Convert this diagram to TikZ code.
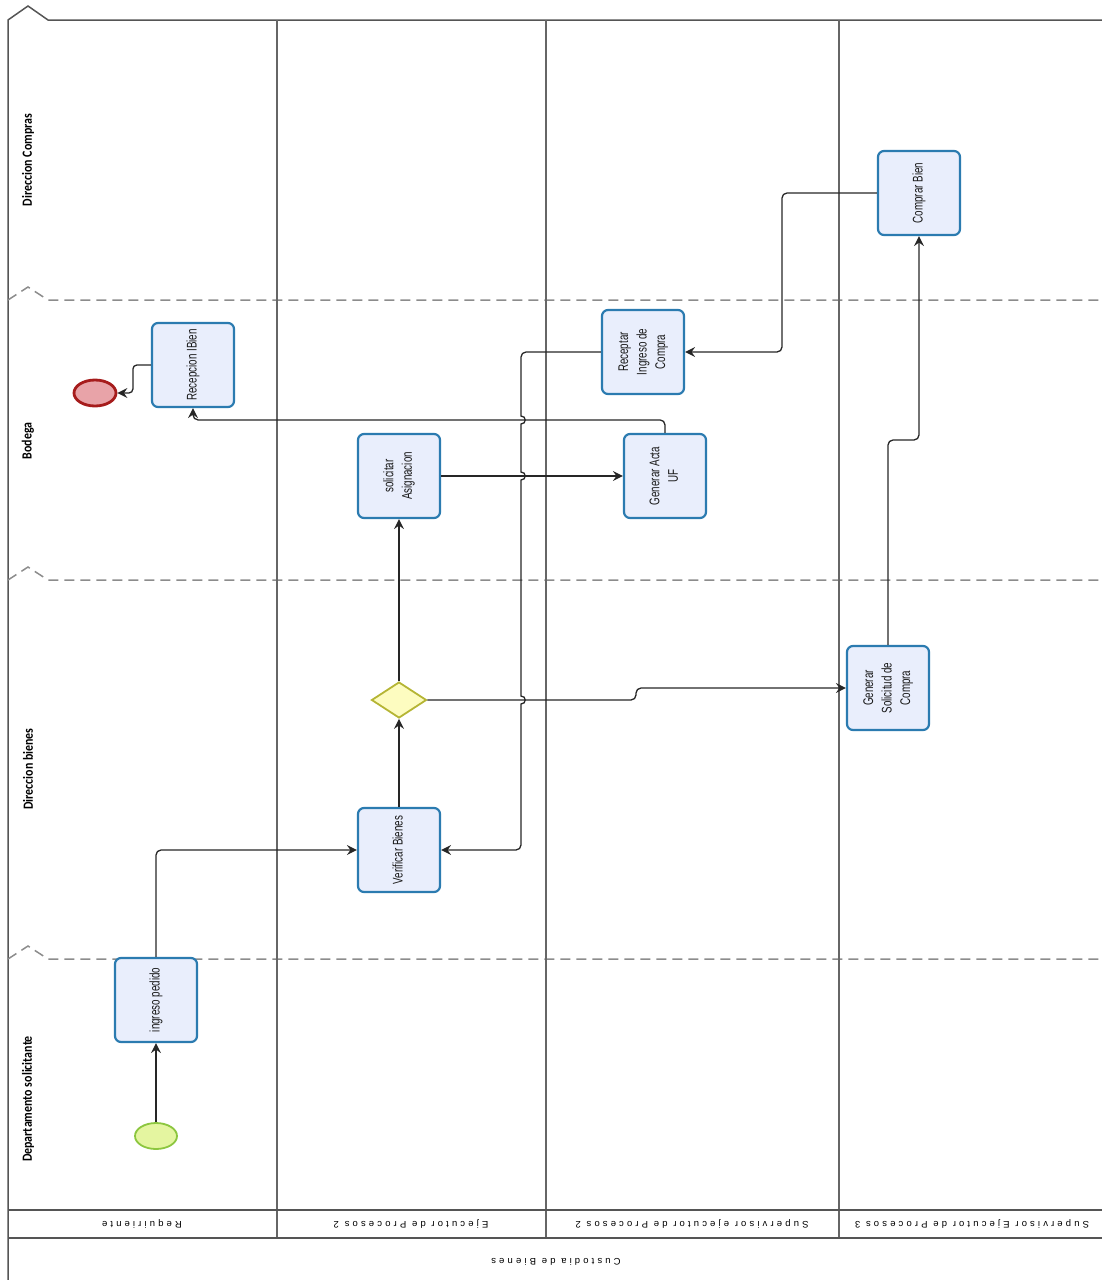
\documentclass[tikz,border=0pt]{standalone}
\usepackage{graphicx}
\usepackage{fontspec}
\setmainfont{Liberation Sans}
\newfontfamily\taskfont{Liberation Sans}[FakeStretch=0.7]
\newfontfamily\lanefont{Carlito}[FakeStretch=0.85]
\newfontfamily\colfont{Liberation Sans}[LetterSpace=33]
\usetikzlibrary{shapes.geometric,arrows.meta}
\definecolor{taskfill}{HTML}{E9EEFC}
\definecolor{taskline}{HTML}{2B7BB0}
\definecolor{gatefill}{HTML}{FDFCC0}
\definecolor{gateline}{HTML}{B5B534}
\definecolor{startfill}{HTML}{E4F5A0}
\definecolor{startline}{HTML}{8CC63F}
\definecolor{endfill}{HTML}{E8A3A8}
\definecolor{endline}{HTML}{A61C1C}
\definecolor{poolline}{HTML}{555555}
\newcommand{\vtext}[1]{\rotatebox{90}{\begin{tabular}{@{}c@{}}#1\end{tabular}}}
\tikzset{
    task/.style={rectangle, rounded corners=6pt, draw=taskline, line width=2.2pt, fill=taskfill,
        minimum width=82pt, minimum height=84pt, inner sep=0, text=black!90,
        font=\taskfont\fontsize{14}{18.5}\selectfont},
    gate/.style={diamond, draw=gateline, fill=gatefill, line width=1.8pt,
        minimum width=55pt, minimum height=36pt, inner sep=0},
    startev/.style={ellipse, draw=startline, fill=startfill, line width=1.8pt,
        minimum width=42pt, minimum height=26pt, inner sep=0},
    endev/.style={ellipse, draw=endline, fill=endfill, line width=2.8pt,
        minimum width=42pt, minimum height=26pt, inner sep=0},
    flow/.style={draw=black!85, line width=1.3pt, -{Stealth[length=10pt,width=10pt,inset=3.5pt]}},
    hop/.style={out=0, in=0, looseness=1.8},
    pool/.style={draw=poolline, line width=1.5pt},
    colline/.style={draw=black!60, line width=2pt},
    laneline/.style={draw=black!45, line width=1.5pt, dash pattern=on 10pt off 6pt},
    lanelabel/.style={rotate=90, inner sep=0, font=\lanefont\bfseries\fontsize{14}{16}\selectfont},
    collabel/.style={rotate=180, inner sep=0, text=black, font=\colfont\fontsize{9.5}{11}\selectfont}
}

\begin{document}
\begin{tikzpicture}[x=1pt, y=-1pt]
    \useasboundingbox (0,0) rectangle (1102,1280);

    % pool and lanes
    \draw[pool] (8,1280) -- (8,20) -- (28,6) -- (48,20) -- (1102,20);
    \foreach \y in {300,580,959}
        \draw[laneline] (8,\y) -- (28,{\y-13}) -- (48,\y) -- (1102,\y);
    \foreach \x in {277,546,839}
        \draw[colline] (\x,20) -- (\x,1238);
    \draw[pool] (8,1210) -- (1102,1210);
    \draw[pool] (8,1238) -- (1102,1238);

    \node[lanelabel] (lab-dc) at (28,160) {Direccion Compras};
    \node[lanelabel] (lab-bo) at (28,441) {Bodega};
    \node[lanelabel] (lab-db) at (28,769) {Direccion bienes};
    \node[lanelabel] (lab-ds) at (28,1099) {Departamento solicitante};

    \node[collabel] (col-req) at (142,1224) {Requiriente};
    \node[collabel] (col-ej) at (411,1224) {Ejecutor de Procesos 2};
    \node[collabel] (col-se) at (692,1224) {Supervisor ejecutor de Procesos 2};
    \node[collabel] (col-sE) at (972,1224) {Supervisor Ejecutor de Procesos 3};
    \node[collabel] (pool-lab) at (556,1262) {Custodia de Bienes};

    % flow objects
    \node[startev] (inicio) at (156,1136) {};
    \node[endev] (fin) at (95,393) {};
    \node[task] (ip) at (156,1000) {\vtext{ingreso pedido}};
    \node[task] (ver) at (399,850) {\vtext{Verificar Bienes}};
    \node[gate] (gw) at (399,700) {};
    \node[task] (sa) at (399,476) {\vtext{solicitar\\Asignacion}};
    \node[task] (acta) at (665,476) {\vtext{Generar Acta\\UF}};
    \node[task] (rb) at (193,365) {\vtext{Recepcion IBien}};
    \node[task] (rcp) at (643,352) {\vtext{Receptar\\Ingreso de\\Compra}};
    \node[task] (gsc) at (888,688) {\vtext{Generar\\Solicitud de\\Compra}};
    \node[task] (cb) at (919,193) {\vtext{Comprar Bien}};

    % sequence flows
    \draw[flow] (inicio) -- (ip);
    \draw[flow, rounded corners=5pt] (ip.north) |- (ver.west);
    \draw[flow] (ver) -- (gw);
    \draw[flow] (gw) -- (sa);
    \draw[flow, rounded corners=5pt] (gw.east) -- (636,700) |- (gsc.west);
    \draw[flow, rounded corners=5pt] (gsc.north) |- (903,440) -| (cb.south);
    \draw[flow, rounded corners=5pt] (cb.west) -| (782,270) |- (rcp.east);
    \draw[flow] (rcp.west) [rounded corners=5pt] -- (521,352) -- (521,390) [sharp corners]
        -- (521,416) to[hop] (521,424) -- (521,472) to[hop] (521,480)
        -- (521,696) to[hop] (521,704) -- (521,820) [rounded corners=5pt] -- (521,850) -- (ver.east);
    \draw[flow] (sa) -- (acta);
    \draw[flow, rounded corners=5pt] (acta.north) -- ++(0,-13) -| (rb.south);
    \draw[flow, rounded corners=4pt] (rb.west) -- ++(-18,0) |- (fin.east);
\end{tikzpicture}
\end{document}
